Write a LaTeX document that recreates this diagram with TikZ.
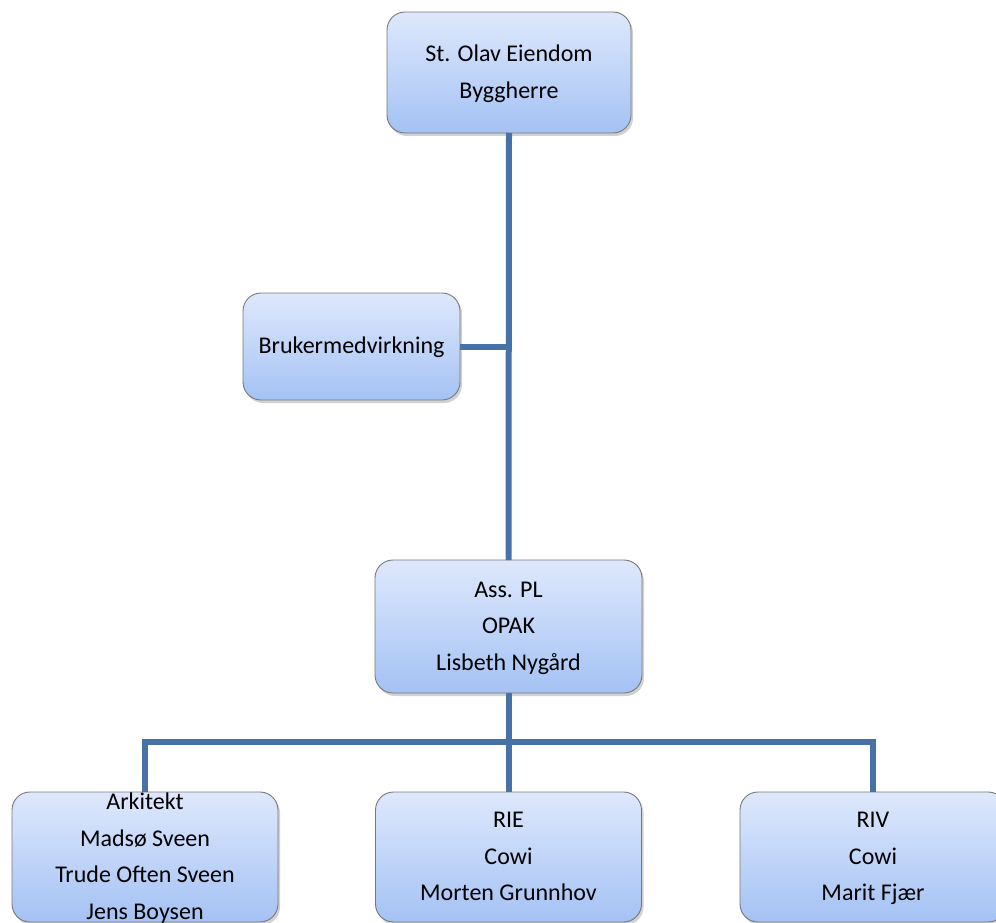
\documentclass[tikz,border=0pt]{standalone}
\usepackage{fontspec}
\setmainfont{Carlito}
\usetikzlibrary{shadows}
\definecolor{linecol}{RGB}{70,114,168}
\definecolor{boxtop}{RGB}{222,232,252}
\definecolor{boxbot}{RGB}{164,194,244}
\definecolor{boxedge}{RGB}{120,120,120}
\tikzset{
  orgbox/.style={draw=boxedge, line width=0.9pt, rounded corners=18pt,
    top color=boxtop, bottom color=boxbot, shading angle=0,
    drop shadow={shadow xshift=2pt, shadow yshift=-3pt, opacity=0.3, fill=black!60},
    inner sep=0pt, outer sep=0pt},
  orgtext/.style={align=center, font=\fontsize{24}{36.5}\selectfont, inner sep=0pt},
  conn/.style={draw=linecol, line width=6pt, line join=miter}
}
\newcommand{\tline}[1]{\strut #1}
\begin{document}
\begin{tikzpicture}[x=1pt, y=-1pt]
\useasboundingbox (0,0) rectangle (996,923);
\begin{scope}
\clip (0,0) rectangle (996,923);
% boxes
\node[orgbox, minimum width=244pt, minimum height=121pt] (top) at (509,72.5) {};
\node[orgbox, minimum width=217pt, minimum height=107pt] (bruk) at (351.5,346.5) {};
\node[orgbox, minimum width=267pt, minimum height=133pt] (pl) at (508.5,626.5) {};
\node[orgbox, minimum width=266pt, minimum height=130pt] (ark) at (145,857) {};
\node[orgbox, minimum width=266pt, minimum height=130pt] (rie) at (508.5,857) {};
\node[orgbox, minimum width=266pt, minimum height=130pt] (riv) at (873,857) {};
% junction coordinates
\coordinate (jb) at (pl.north |- bruk.east);
\coordinate (hb) at (pl.south |- 0,742);
\coordinate (hl) at (ark.north |- 0,742);
\coordinate (hr) at (riv.north |- 0,742);
% connectors
\draw[conn] (top.south) -- (pl.north);
\draw[conn] (bruk.east) -- (jb);
\draw[conn] (pl.south) -- (rie.north);
\draw[conn] (ark.north) -- (hl) -- (hr) -- (riv.north);
% texts
\node[orgtext] (ttop) at (top.center) {\tline{St. Olav Eiendom}\\\tline{Byggherre}};
\node[orgtext] (tbruk) at (bruk.center) {\tline{Brukermedvirkning}};
\node[orgtext] (tpl) at (pl.center) {\tline{Ass. PL}\\\tline{OPAK}\\\tline{Lisbeth Nygård}};
\node[orgtext] (tark) at (ark.center) {\tline{Arkitekt}\\\tline{Madsø Sveen}\\\tline{Trude Often Sveen}\\\tline{Jens Boysen}};
\node[orgtext] (trie) at (rie.center) {\tline{RIE}\\\tline{Cowi}\\\tline{Morten Grunnhov}};
\node[orgtext] (triv) at (riv.center) {\tline{RIV}\\\tline{Cowi}\\\tline{Marit Fjær}};
\end{scope}
\end{tikzpicture}
\end{document}
